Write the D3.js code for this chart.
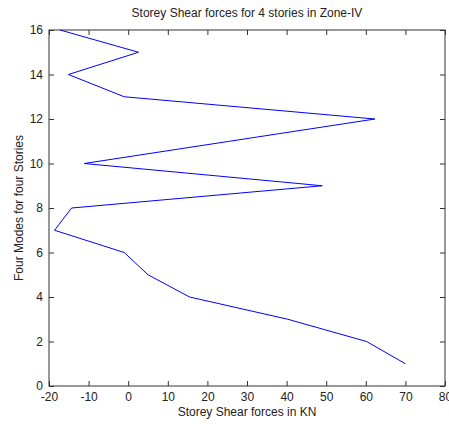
<!DOCTYPE html>
<html>
<head>
<meta charset="utf-8">
<script src="https://cdn.jsdelivr.net/npm/d3@7"></script>
<style>
  html, body { margin: 0; padding: 0; background: #fff; }
  svg text { font-family: "Liberation Sans", Arial, sans-serif; fill: #222; }
</style>
</head>
<body>
<svg id="chart" width="449" height="428"></svg>
<script>
// Storey shear (kN) for each mode index 1..16
const modes = [1, 2, 3, 4, 5, 6, 7, 8, 9, 10, 11, 12, 13, 14, 15, 16];
const shear = [70, 60.2, 40.3, 15.5, 5, -1, -18.6, -14.3, 49, -11.1, 25.6, 62.3, -1, -15.1, 2.6, -17.2];
const xTicks = [-20, -10, 0, 10, 20, 30, 40, 50, 60, 70, 80];
const yTicks = [0, 2, 4, 6, 8, 10, 12, 14, 16];

const margin = { left: 49, top: 30, right: 4, bottom: 42 };
const W = 449, H = 428;
const svg = d3.select("#chart");

const x = d3.scaleLinear().domain([-20, 80]).range([margin.left, W - margin.right]);
const y = d3.scaleLinear().domain([0, 16]).range([H - margin.bottom, margin.top]);

const axisColor = "#333";
const tickLen = 5;
// plain hyphen for negative labels
const fmt = d => String(d);

// frame
svg.append("rect")
  .attr("x", x(-20)).attr("y", y(16))
  .attr("width", x(80) - x(-20)).attr("height", y(0) - y(16))
  .attr("fill", "none").attr("stroke", axisColor).attr("stroke-width", 1);

function styleAxis(g) {
  g.select(".domain").remove();
  g.selectAll(".tick line").attr("stroke", axisColor);
  g.selectAll(".tick text").style("font-size", "12px").attr("fill", "#222");
}

// bottom axis, ticks pointing in
svg.append("g").attr("transform", `translate(0,${y(0)})`)
  .call(d3.axisBottom(x).tickValues(xTicks).tickFormat(fmt).tickSizeInner(-tickLen).tickSizeOuter(0).tickPadding(6))
  .call(styleAxis);
// top ticks
svg.append("g").attr("transform", `translate(0,${y(16)})`)
  .call(d3.axisTop(x).tickValues(xTicks).tickSizeInner(-tickLen).tickSizeOuter(0).tickFormat(""))
  .call(styleAxis);
// left axis
svg.append("g").attr("transform", `translate(${x(-20)},0)`)
  .call(d3.axisLeft(y).tickValues(yTicks).tickFormat(fmt).tickSizeInner(-tickLen).tickSizeOuter(0).tickPadding(6))
  .call(styleAxis);
// right ticks
svg.append("g").attr("transform", `translate(${x(80)},0)`)
  .call(d3.axisRight(y).tickValues(yTicks).tickSizeInner(-tickLen).tickSizeOuter(0).tickFormat(""))
  .call(styleAxis);

// data line
const line = d3.line().x((d, i) => x(shear[i])).y(d => y(d));
svg.append("path")
  .datum(modes)
  .attr("d", line)
  .attr("fill", "none")
  .attr("stroke", "#0000ff")
  .attr("stroke-width", 1);

// titles
svg.append("text")
  .attr("x", (x(-20) + x(80)) / 2).attr("y", 17)
  .attr("text-anchor", "middle").style("font-size", "12px")
  .text("Storey Shear forces for 4 stories in Zone-IV");
svg.append("text")
  .attr("x", (x(-20) + x(80)) / 2).attr("y", 416)
  .attr("text-anchor", "middle").style("font-size", "12px")
  .text("Storey Shear forces in KN");
svg.append("text")
  .attr("transform", `translate(23,${(y(0) + y(16)) / 2}) rotate(-90)`)
  .attr("text-anchor", "middle").style("font-size", "12px")
  .text("Four Modes for four Stories");
</script>
</body>
</html>
